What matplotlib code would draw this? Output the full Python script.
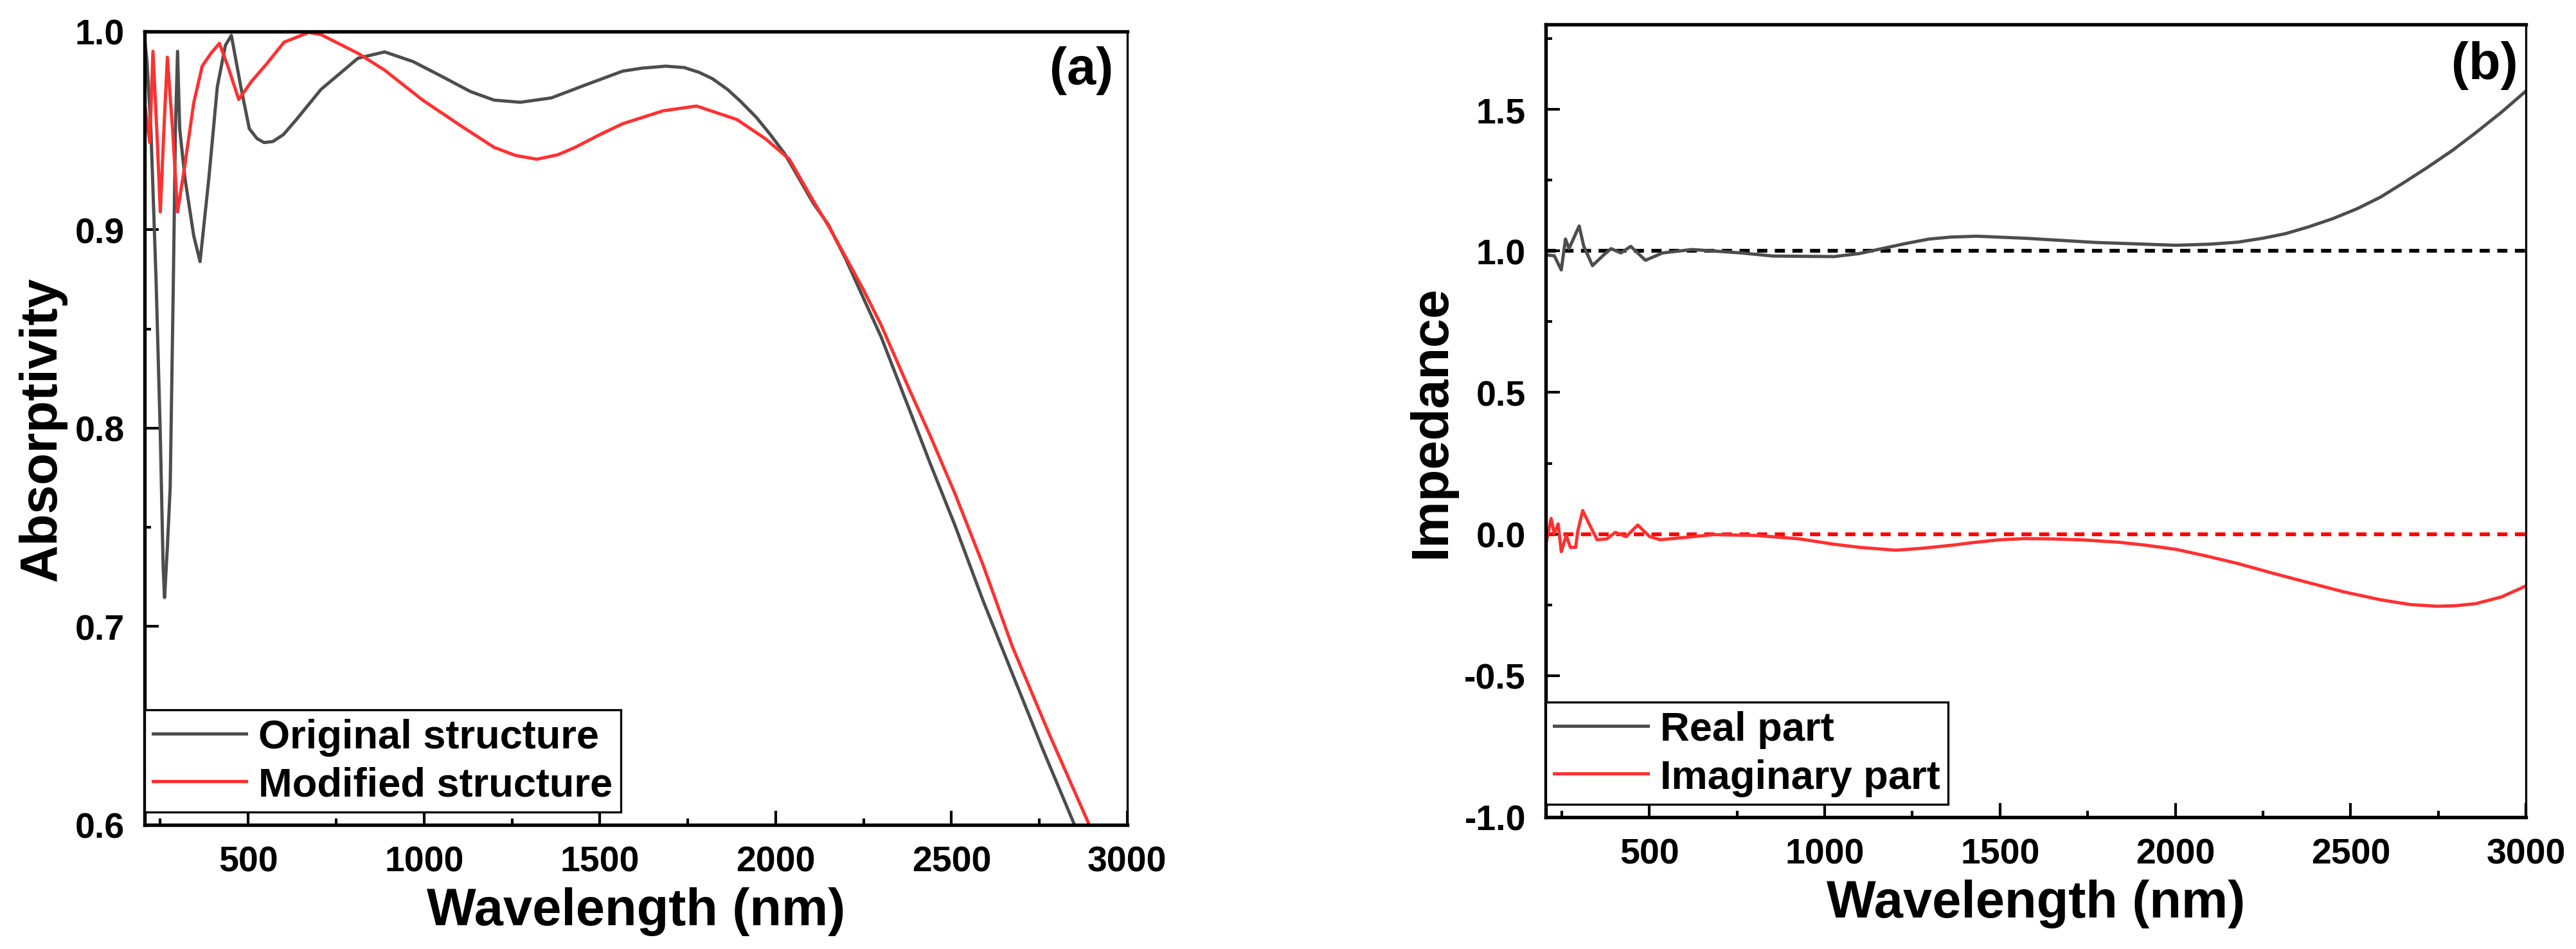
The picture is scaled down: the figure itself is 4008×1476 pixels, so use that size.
import matplotlib
matplotlib.use("Agg")
import matplotlib.pyplot as plt
from matplotlib.ticker import MultipleLocator

plt.rcParams['font.family'] = ['Liberation Sans', 'DejaVu Sans']
plt.rcParams['font.weight'] = 'bold'
plt.rcParams['axes.unicode_minus'] = False

# panel (a): absorptivity
wl_orig = [205, 212, 223, 238, 250, 258, 262, 270, 278, 287, 293, 299, 305, 320, 345, 363,
           388, 412, 435, 452, 479, 503, 525, 545, 570, 600, 637, 707, 812, 888, 969, 1051,
           1132, 1199, 1274, 1362, 1457, 1565, 1620, 1687, 1740, 1782, 1820, 1863, 1900,
           1945, 1985, 2026, 2107, 2150, 2200, 2248, 2300, 2379, 2440, 2510, 2590, 2673,
           2760, 2850, 3000]
abs_orig = [0.997, 0.985, 0.9515, 0.874, 0.796, 0.730, 0.7146, 0.740, 0.770, 0.874, 0.951,
            0.990, 0.951, 0.926, 0.897, 0.884, 0.926, 0.972, 0.993, 0.998, 0.972, 0.951,
            0.946, 0.944, 0.9445, 0.948, 0.9556, 0.9708, 0.9865, 0.9897, 0.9848, 0.9773,
            0.9697, 0.9654, 0.9643, 0.9665, 0.9729, 0.980, 0.9815, 0.9825, 0.9818, 0.9794,
            0.9762, 0.9708, 0.9648, 0.9567, 0.948, 0.9383, 0.9134, 0.9026, 0.885, 0.8662,
            0.846, 0.810, 0.782, 0.751, 0.713, 0.6763, 0.638, 0.600, 0.535]

wl_mod = [205, 212, 220, 229, 240, 250, 260, 270, 285, 299, 320, 345, 369, 394, 418, 442,
          473, 510, 553, 602, 672, 707, 812, 888, 996, 1105, 1199, 1260, 1321, 1380, 1430,
          1500, 1565, 1680, 1775, 1890, 1971, 2039, 2107, 2150, 2200, 2249, 2300, 2379,
          2440, 2510, 2590, 2673, 2780, 2892, 3000]
abs_mod = [0.964, 0.955, 0.944, 0.990, 0.950, 0.909, 0.950, 0.987, 0.950, 0.909, 0.933,
           0.964, 0.9825, 0.989, 0.994, 0.9825, 0.9657, 0.975, 0.9838, 0.9946, 0.9995,
           0.9984, 0.989, 0.9805, 0.9654, 0.9524, 0.9416, 0.9375, 0.9356, 0.9378, 0.9416,
           0.948, 0.9535, 0.960, 0.9624, 0.9556, 0.9459, 0.9356, 0.9146, 0.902, 0.886,
           0.870, 0.852, 0.820, 0.796, 0.767, 0.731, 0.690, 0.645, 0.600, 0.556]

# panel (b): impedance
wl_real = [205, 229, 249, 261, 271, 300, 313, 338, 370, 391, 419, 447, 489, 538, 622, 762,
           853, 1027, 1100, 1163, 1230, 1298, 1360, 1434, 1569, 1772, 2002, 2100, 2178,
           2250, 2314, 2380, 2449, 2520, 2585, 2650, 2720, 2790, 2856, 2930, 3000]
z_real = [0.986, 0.983, 0.933, 1.042, 1.008, 1.088, 1.017, 0.948, 0.986, 1.008, 0.993,
          1.016, 0.967, 0.993, 1.005, 0.993, 0.982, 0.980, 0.991, 1.008, 1.026, 1.042,
          1.049, 1.052, 1.045, 1.030, 1.020, 1.024, 1.031, 1.045, 1.061, 1.085, 1.114,
          1.150, 1.190, 1.240, 1.296, 1.355, 1.417, 1.490, 1.565]

wl_imag = [205, 220, 229, 240, 249, 263, 275, 290, 296, 310, 330, 351, 379, 403, 434, 467,
           501, 531, 592, 684, 806, 928, 1027, 1100, 1203, 1280, 1366, 1430, 1501, 1570,
           1650, 1740, 1840, 1920, 2002, 2090, 2178, 2280, 2381, 2480, 2585, 2670, 2747,
           2800, 2856, 2930, 3000]
z_imag = [-0.036, 0.055, 0.002, 0.036, -0.062, -0.005, -0.047, -0.047, 0.010, 0.083, 0.032,
          -0.020, -0.017, 0.006, -0.009, 0.032, -0.009, -0.020, -0.013, -0.002, -0.005,
          -0.017, -0.036, -0.047, -0.057, -0.050, -0.039, -0.029, -0.020, -0.016, -0.017,
          -0.021, -0.029, -0.040, -0.054, -0.078, -0.104, -0.139, -0.172, -0.204, -0.232,
          -0.249, -0.255, -0.253, -0.246, -0.222, -0.183]

ref_real = 1.0
ref_imag = 0.0

GRAY = '#4d4d4d'
RED = '#ff3030'

fig = plt.figure(figsize=(13.36, 4.9233), dpi=300)
ax1 = fig.add_axes([0.0561, 0.1307, 0.3815, 0.8355])
ax2 = fig.add_axes([0.6001, 0.1388, 0.3805, 0.8348])


def style_axes(ax):
    for side in ['left', 'bottom', 'top']:
        ax.spines[side].set_linewidth(1.3)
    ax.spines['right'].set_linewidth(0.8)
    ax.tick_params(which='both', direction='in', top=False, right=False, width=1.0,
                   labelsize=13.3, pad=7.5)
    ax.tick_params(which='major', length=5.3)
    ax.tick_params(which='minor', length=2.4)
    ax.set_xlim(205, 3000)
    ax.xaxis.set_major_locator(MultipleLocator(500))
    ax.xaxis.set_minor_locator(MultipleLocator(250))
    for lbl in ax.get_xticklabels() + ax.get_yticklabels():
        lbl.set_fontweight('bold')
    ax.set_xlabel('Wavelength (nm)', fontsize=19.5, fontweight='bold', labelpad=3)


ax1.plot(wl_orig, abs_orig, color=GRAY, lw=1.2, label='Original structure')
ax1.plot(wl_mod, abs_mod, color=RED, lw=1.2, label='Modified structure')
ax1.set_ylim(0.6, 1.0)
ax1.yaxis.set_major_locator(MultipleLocator(0.1))
ax1.yaxis.set_minor_locator(MultipleLocator(0.05))
style_axes(ax1)
ax1.set_ylabel('Absorptivity', fontsize=19.5, fontweight='bold', labelpad=3)
ax1.text(0.986, 0.982, '(a)', transform=ax1.transAxes, ha='right', va='top',
         fontsize=19.5, fontweight='bold')

ax2.axhline(ref_real, color='black', lw=1.4, linestyle=(0, (2.7, 2.0)))
ax2.axhline(ref_imag, color='red', lw=1.4, linestyle=(0, (2.7, 2.0)))
ax2.plot(wl_real, z_real, color=GRAY, lw=1.2, label='Real part')
ax2.plot(wl_imag, z_imag, color=RED, lw=1.2, label='Imaginary part')
ax2.set_ylim(-1.0, 1.8)
ax2.yaxis.set_major_locator(MultipleLocator(0.5))
ax2.yaxis.set_minor_locator(MultipleLocator(0.25))
style_axes(ax2)
ax2.set_ylabel('Impedance', fontsize=19.5, fontweight='bold', labelpad=3)
ax2.text(0.992, 0.98, '(b)', transform=ax2.transAxes, ha='right', va='top',
         fontsize=19.5, fontweight='bold')

for ax in (ax1, ax2):
    h, l = ax.get_legend_handles_labels()
    leg = ax.legend(h[-2:], l[-2:], loc='lower left', bbox_to_anchor=(0.0, 0.016),
                    borderaxespad=0, fontsize=15.2, frameon=True, fancybox=False,
                    edgecolor='black', framealpha=1, handlelength=2.3,
                    handletextpad=0.3, labelspacing=0.25, borderpad=0.2)
    leg.get_frame().set_linewidth(0.8)
    for t in leg.get_texts():
        t.set_fontweight('bold')

fig.savefig('out.png', dpi=300)
